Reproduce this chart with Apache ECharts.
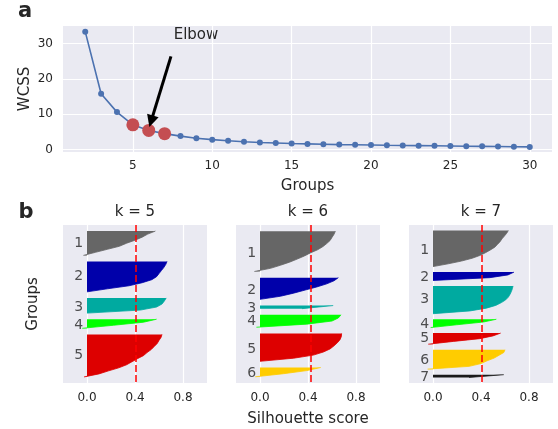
<!DOCTYPE html>
<html>
<head>
<meta charset="utf-8">
<script src="https://cdn.jsdelivr.net/npm/echarts@6/dist/echarts.min.js"></script>
<style>
html, body { margin: 0; padding: 0; background: #fff; }
#main { width: 558px; height: 429px; }
</style>
</head>
<body>
<div id="main"></div>
<script>
// panel a: elbow curve
var groups = [2, 3, 4, 5, 6, 7, 8, 9, 10, 11, 12, 13, 14, 15, 16, 17, 18, 19, 20, 21, 22, 23, 24, 25, 26, 27, 28, 29, 30];
var wcss = [33.4, 15.8, 10.6, 7.0, 5.4, 4.5, 3.8, 3.2, 2.8, 2.5, 2.2, 2.0, 1.85, 1.7, 1.6, 1.5, 1.4, 1.35, 1.3, 1.2, 1.15, 1.1, 1.05, 1.0, 0.95, 0.9, 0.85, 0.8, 0.75];
var elbowGroups = [5, 6, 7];
var groupTicks = [5, 10, 15, 20, 25, 30];
var wcssTicks = [0, 10, 20, 30];
var arrowFrom = [7.4, 26.4];
var arrowTo = [6.15, 8.0];

// panel b: silhouette values per cluster, sorted high -> low
var kList = [5, 6, 7];
var silK5 = [
    [0.57, 0.506, 0.46, 0.40, 0.33, 0.27, 0.17, 0.07, -0.03],
    [0.667, 0.656, 0.64, 0.62, 0.60, 0.58, 0.54, 0.46, 0.35, 0.17, 0.0],
    [0.66, 0.645, 0.625, 0.58, 0.445, 0.0],
    [0.58, 0.47, 0.22, -0.04],
    [0.625, 0.617, 0.60, 0.585, 0.56, 0.535, 0.50, 0.47, 0.42, 0.375, 0.33, 0.265, 0.18, 0.10, -0.025]
];
var silK6 = [
    [0.628, 0.617, 0.60, 0.584, 0.556, 0.523, 0.48, 0.42, 0.37, 0.31, 0.246, 0.17, 0.086, -0.047],
    [0.653, 0.617, 0.556, 0.473, 0.376, 0.28, 0.17, 0.0],
    [0.61, 0.35],
    [0.675, 0.653, 0.60, 0.39, -0.03],
    [0.68, 0.678, 0.667, 0.645, 0.617, 0.584, 0.528, 0.445, 0.28, 0.0],
    [0.506, 0.39, 0.196, -0.04]
];
var silK7 = [
    [0.628, 0.614, 0.595, 0.575, 0.559, 0.537, 0.515, 0.478, 0.437, 0.39, 0.326, 0.238, 0.127, 0.0],
    [0.675, 0.625, 0.473, 0.0],
    [0.667, 0.661, 0.653, 0.642, 0.628, 0.606, 0.57, 0.523, 0.445, 0.307, 0.0],
    [0.528, 0.42, 0.196, -0.02],
    [0.564, 0.50, 0.39, 0.17, -0.04],
    [0.60, 0.59, 0.55, 0.51, 0.45, 0.40, 0.30, -0.045],
    [0.59, 0.30]
];
var avgScore = [0.415, 0.423, 0.412];
var scoreTicks = [0, 0.4, 0.8];
var clusterColors = ['#666666', '#0000aa', '#00aaa0', '#00ff00', '#dd0000', '#ffcc00', '#1a1a1a'];

var txt = '#262626';
var font = 'DejaVu Sans';
var bg = '#eaeaf2';

var myChart = echarts.init(document.getElementById('main'));

var grids = [
    {left: 63, top: 26, width: 489, height: 126}
];
var panelLeft = [63, 236, 409];
panelLeft.forEach(function (l) {
    grids.push({left: l, top: 225, width: 144, height: 158});
});
grids.forEach(function (g) {
    g.show = true;
    g.backgroundColor = bg;
    g.borderWidth = 0;
    g.containLabel = false;
});

var xAxes = [{
    gridIndex: 0, type: 'value', min: 0.6, max: 31.4,
    axisLine: {show: false},
    axisTick: {show: false, customValues: groupTicks},
    axisLabel: {customValues: groupTicks, color: txt, fontSize: 12, fontFamily: font, margin: 8},
    splitLine: {show: true, lineStyle: {color: '#fff', width: 1.2}},
    name: 'Groups', nameLocation: 'middle', nameGap: 27,
    nameTextStyle: {color: txt, fontSize: 15, fontFamily: font}
}];
var yAxes = [{
    gridIndex: 0, type: 'value', min: -0.7, max: 35,
    axisLine: {show: false},
    axisTick: {show: false, customValues: wcssTicks},
    axisLabel: {customValues: wcssTicks, color: txt, fontSize: 12, fontFamily: font, margin: 10},
    splitLine: {show: true, lineStyle: {color: '#fff', width: 1.2}},
    name: 'WCSS', nameLocation: 'middle', nameGap: 30, nameMoveOverlap: false,
    nameTextStyle: {color: txt, fontSize: 15, fontFamily: font}
}];

var series = [{
    type: 'line',
    xAxisIndex: 0, yAxisIndex: 0,
    data: groups.map(function (g, i) { return [g, wcss[i]]; }),
    symbol: 'circle', symbolSize: 6,
    itemStyle: {color: '#4c72b0'},
    lineStyle: {color: '#4c72b0', width: 1.6},
    z: 2,
    markLine: {
        silent: true,
        symbol: ['none', 'triangle'],
        symbolSize: 12,
        label: {show: false},
        lineStyle: {color: '#000', width: 3, type: 'solid'},
        data: [[{coord: arrowFrom}, {coord: arrowTo}]]
    }
}, {
    type: 'scatter',
    xAxisIndex: 0, yAxisIndex: 0,
    data: elbowGroups.map(function (g) { return [g, wcss[groups.indexOf(g)]]; }),
    symbolSize: 13,
    itemStyle: {color: '#c44e52', opacity: 1},
    z: 3
}];

var graphics = [
    {type: 'text', x: 25, y: 12, style: {text: 'a', font: 'bold 21px "DejaVu Sans"', fill: txt, textAlign: 'center', textVerticalAlign: 'middle'}},
    {type: 'text', x: 26, y: 213, style: {text: 'b', font: 'bold 21px "DejaVu Sans"', fill: txt, textAlign: 'center', textVerticalAlign: 'middle'}},
    {type: 'text', x: 196, y: 35, style: {text: 'Elbow', font: '15px "DejaVu Sans"', fill: txt, textAlign: 'center', textVerticalAlign: 'middle'}}
];

[silK5, silK6, silK7].forEach(function (clusters, p) {
    var gap = 2;
    var row = gap;
    var starts = [];
    clusters.forEach(function (vals) {
        starts.push(row);
        row += vals.length - 1 + gap;
    });
    var nRows = row + 1;
    var rows = [];
    for (var r = 0; r < nRows; r++) rows.push(String(r));

    xAxes.push({
        gridIndex: p + 1, type: 'value', min: -0.2, max: 1.0,
        axisLine: {show: false},
        axisTick: {show: false, customValues: scoreTicks},
        axisLabel: {
            customValues: scoreTicks, color: txt, fontSize: 12, fontFamily: font, margin: 9,
            formatter: function (v) { return v.toFixed(1); }
        },
        splitLine: {show: true, lineStyle: {color: '#fff', width: 1.2}},
        name: p === 1 ? 'Silhouette score' : '', nameLocation: 'middle', nameGap: 29,
        nameTextStyle: {color: txt, fontSize: 15, fontFamily: font}
    });
    yAxes.push({
        gridIndex: p + 1, type: 'category', inverse: true, boundaryGap: false,
        data: rows,
        axisLine: {show: false}, axisTick: {show: false},
        axisLabel: {show: false}, splitLine: {show: false},
        name: p === 0 ? 'Groups' : '', nameLocation: 'middle', nameGap: 22,
        nameTextStyle: {color: txt, fontSize: 15, fontFamily: font}
    });

    clusters.forEach(function (vals, i) {
        var data = [];
        for (var r = 0; r < nRows; r++) data.push(null);
        vals.forEach(function (v, j) { data[starts[i] + j] = v; });
        var c = clusterColors[i];
        series.push({
            type: 'line',
            xAxisIndex: p + 1, yAxisIndex: p + 1,
            data: data,
            symbol: 'none', showSymbol: false, silent: true,
            lineStyle: {color: c, width: 0.8},
            areaStyle: {color: c, opacity: 1},
            itemStyle: {color: c},
            z: 2
        });
    });

    series.push({
        type: 'scatter',
        xAxisIndex: p + 1, yAxisIndex: p + 1,
        symbolSize: 1, silent: true,
        itemStyle: {color: 'rgba(0,0,0,0)'},
        label: {show: true, position: 'inside', formatter: '{b}', color: txt, fontSize: 14, fontFamily: font},
        data: clusters.map(function (vals, i) {
            return {name: String(i + 1), value: [-0.07, starts[i] + (vals.length - 1) / 2]};
        }),
        z: 4,
        markLine: {
            silent: true, symbol: 'none', label: {show: false},
            lineStyle: {color: '#ff0000', width: 1.5, type: [7, 3]},
            data: [{xAxis: avgScore[p]}]
        }
    });

    graphics.push({
        type: 'text', x: panelLeft[p] + 72, y: 212,
        style: {text: 'k = ' + kList[p], font: '15px "DejaVu Sans"', fill: txt, textAlign: 'center', textVerticalAlign: 'middle'}
    });
});

var option = {
    animation: false,
    backgroundColor: '#fff',
    grid: grids,
    xAxis: xAxes,
    yAxis: yAxes,
    series: series,
    graphic: graphics
};

myChart.setOption(option);
</script>
</body>
</html>
